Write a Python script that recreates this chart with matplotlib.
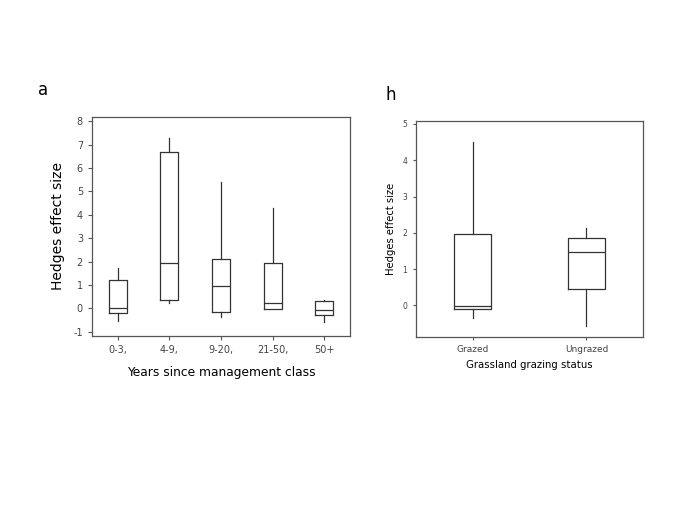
import matplotlib
matplotlib.use("Agg")
import matplotlib.pyplot as plt

plt.rcParams["axes.unicode_minus"] = False

# ── Data ──────────────────────────────────────────────────────────────────────
mgmt_classes = ["0-3,", "4-9,", "9-20,", "21-50,", "50+"]
mgmt_whislo = [-0.53, 0.24, -0.36, -0.03, -0.58]
mgmt_q1     = [-0.19, 0.34, -0.17, -0.03, -0.28]
mgmt_med    = [0.00, 1.94, 0.97, 0.21, -0.06]
mgmt_q3     = [1.20, 6.68, 2.12, 1.95, 0.33]
mgmt_whishi = [1.74, 7.26, 5.41, 4.27, 0.38]

graze_classes = ["Grazed", "Ungrazed"]
graze_whislo = [-0.35, -0.56]
graze_q1     = [-0.11, 0.44]
graze_med    = [-0.01, 1.46]
graze_q3     = [1.98, 1.86]
graze_whishi = [4.51, 2.13]

LINE = "#333333"
TXT = "#444444"


def make_stats(labels, lo, q1, med, q3, hi):
    return [dict(label=l, whislo=a, q1=b, med=c, q3=d, whishi=e, fliers=[])
            for l, a, b, c, d, e in zip(labels, lo, q1, med, q3, hi)]


def draw_panel(ax, stats, width):
    props = dict(color=LINE, linewidth=0.9)
    ax.bxp(stats, widths=width, showcaps=False, showfliers=False,
           boxprops=props, whiskerprops=props, medianprops=props)
    for sp in ax.spines.values():
        sp.set_color("#555555")
        sp.set_linewidth(0.9)
    ax.tick_params(direction="out", color="#555555", length=3, width=0.8,
                   labelcolor=TXT)


fig = plt.figure(figsize=(6.85, 5.13), dpi=100)

# ── Panel a ───────────────────────────────────────────────────────────────────
ax1 = fig.add_axes([0.1343, 0.345, 0.3767, 0.427])
draw_panel(ax1, make_stats(mgmt_classes, mgmt_whislo, mgmt_q1, mgmt_med,
                           mgmt_q3, mgmt_whishi), 0.35)
ax1.set_xlim(0.5, 5.5)
ax1.set_ylim(-1.18, 8.18)
ax1.set_yticks(range(-1, 9))
ax1.tick_params(labelsize=7)
ax1.set_ylabel("Hedges effect size", fontsize=10, color="black", labelpad=6)
ax1.set_xlabel("Years since management class", fontsize=8.8, color="black",
               labelpad=8)
fig.text(0.055, 0.815, "a", fontsize=12, color="black")

# ── Panel b ───────────────────────────────────────────────────────────────────
ax2 = fig.add_axes([0.6069, 0.3437, 0.3323, 0.421])
draw_panel(ax2, make_stats(graze_classes, graze_whislo, graze_q1, graze_med,
                           graze_q3, graze_whishi), 0.33)
ax2.set_xlim(0.5, 2.5)
ax2.set_ylim(-0.86, 5.09)
ax2.set_yticks(range(0, 6))
ax2.tick_params(axis="y", labelsize=5.5, length=2.5)
ax2.tick_params(axis="x", labelsize=6.5, length=2.5)
ax2.set_ylabel("Hedges effect size", fontsize=7.2, color="black", labelpad=5)
ax2.set_xlabel("Grassland grazing status", fontsize=7.3, color="black",
               labelpad=4)
fig.text(0.563, 0.805, "h", fontsize=12, color="black")

plt.savefig("out.png", dpi=100)
